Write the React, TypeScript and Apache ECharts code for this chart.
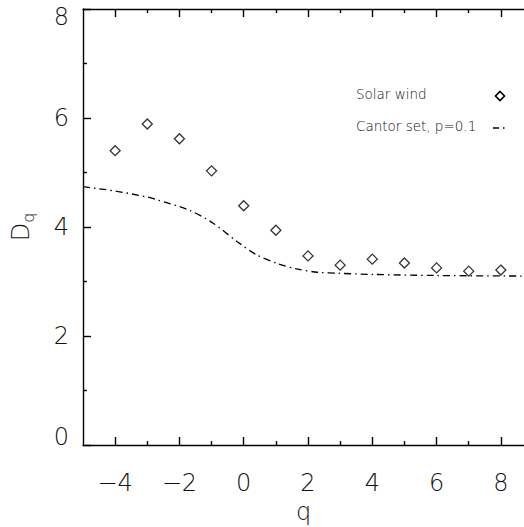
import React, { useEffect, useRef } from "react";
import * as echarts from "echarts";

const qValues = [-4, -3, -2, -1, 0, 1, 2, 3, 4, 5, 6, 7, 8];
const solarWind = [5.4, 5.89, 5.62, 5.03, 4.39, 3.94, 3.47, 3.3, 3.41, 3.34, 3.25, 3.19, 3.21];
const cantorQ = [-5, -4, -3, -2.7, -1.7, -0.95, -0.2, 0.4, 1.05, 1.65, 2.3, 3, 4, 6, 8.72];
const cantorD = [4.74, 4.66, 4.55, 4.5, 4.31, 4.07, 3.73, 3.49, 3.33, 3.23, 3.17, 3.15, 3.13, 3.11, 3.1];
const xMajor = [-4, -2, 0, 2, 4, 6, 8];
const xMinor = [-3, -1, 1, 3, 5, 7];

const FONT = "DejaVu Sans";

export default function App() {
  const ref = useRef<HTMLDivElement>(null);
  useEffect(() => {
    if (!ref.current) return;
    const chart = echarts.init(ref.current, undefined, { renderer: "svg" });
    const lineStyle = { color: "#000", width: 1.4 };
    const baseX = {
      type: "value",
      min: -5,
      max: 8.72,
      splitLine: { show: false },
    };
    chart.setOption({
      animation: false,
      backgroundColor: "#fff",
      grid: { left: 83, top: 9, right: 0, bottom: 82, outerBoundsMode: "none", containLabel: false },
      xAxis: [
        {
          ...baseX,
          position: "bottom",
          axisLine: { show: true, onZero: false, lineStyle },
          axisTick: { show: true, inside: true, length: 8, lineStyle, customValues: xMajor },
          axisLabel: {
            show: true,
            customValues: xMajor,
            margin: 26,
            fontFamily: FONT,
            fontSize: 24,
            fontWeight: 200,
            color: "#111",
            formatter: (v: number) => (v < 0 ? "\u2212" + Math.abs(v) : String(v)),
          },
          name: "q",
          nameLocation: "middle",
          nameGap: 54,
          nameTextStyle: { fontFamily: FONT, fontSize: 24, fontWeight: 200, color: "#111" },
        },
        {
          ...baseX,
          position: "bottom",
          axisLine: { show: false, onZero: false },
          axisTick: { show: true, inside: true, length: 4, lineStyle, customValues: xMinor },
          axisLabel: { show: false },
        },
        {
          ...baseX,
          position: "top",
          axisLine: { show: true, onZero: false, lineStyle },
          axisTick: { show: true, inside: true, length: 8, lineStyle, customValues: xMajor },
          axisLabel: { show: false },
        },
        {
          ...baseX,
          position: "top",
          axisLine: { show: false, onZero: false },
          axisTick: { show: true, inside: true, length: 4, lineStyle, customValues: xMinor },
          axisLabel: { show: false },
        },
      ],
      yAxis: [
        {
          type: "value",
          min: 0,
          max: 8,
          interval: 2,
          position: "left",
          splitLine: { show: false },
          axisLine: { show: true, onZero: false, lineStyle },
          axisTick: { show: true, inside: true, length: 8, lineStyle },
          minorTick: { show: true, splitNumber: 2, length: 4, lineStyle },
          axisLabel: {
            margin: 14,
            fontFamily: FONT,
            fontSize: 24,
            fontWeight: 200,
            lineHeight: 16,
            color: "#111",
            verticalAlignMinLabel: "bottom",
            verticalAlignMaxLabel: "top",
          },
          name: "D{s|q}",
          nameLocation: "middle",
          nameGap: 47,
          nameRotate: 90,
          nameTextStyle: {
            fontFamily: FONT,
            fontSize: 24,
            fontWeight: 200,
            color: "#111",
            rich: {
              s: { fontFamily: FONT, fontSize: 16, fontWeight: 200, color: "#111", verticalAlign: "bottom", padding: [14, 0, 0, 0] },
            },
          },
        },
      ],
      series: [
        {
          type: "scatter",
          name: "Solar wind",
          data: qValues.map((q, i) => [q, solarWind[i]]),
          symbol: "diamond",
          symbolSize: 10,
          itemStyle: { color: "#fff", borderColor: "#000", borderWidth: 1.3 },
          xAxisIndex: 0,
        },
        {
          type: "line",
          name: "Cantor set, p=0.1",
          data: cantorQ.map((q, i) => [q, cantorD[i]]),
          smooth: 0.3,
          showSymbol: false,
          lineStyle: { color: "#000", width: 1.3, type: [7, 4, 1.5, 4] },
          xAxisIndex: 0,
        },
      ],
      graphic: [
        {
          type: "text",
          left: 356,
          top: 87,
          style: { text: "Solar wind", fontFamily: FONT, fontSize: 13.5, fontWeight: 200, fill: "#111" },
        },
        {
          type: "text",
          left: 356,
          top: 119,
          style: { text: "Cantor set, p=0.1", fontFamily: FONT, fontSize: 13.5, fontWeight: 200, fill: "#111" },
        },
        {
          type: "polygon",
          shape: { points: [[500, 91.5], [504.5, 96], [500, 100.5], [495.5, 96]] },
          style: { fill: "#fff", stroke: "#000", lineWidth: 1.6 },
        },
        {
          type: "line",
          shape: { x1: 493, y1: 128, x2: 507, y2: 128 },
          style: { stroke: "#000", lineWidth: 1.3, lineDash: [6, 4, 1.5, 4] },
        },
      ],
    });
    return () => chart.dispose();
  }, []);
  return <div ref={ref} style={{ position: "fixed", left: 0, top: 0, width: 524, height: 527 }} />;
}
